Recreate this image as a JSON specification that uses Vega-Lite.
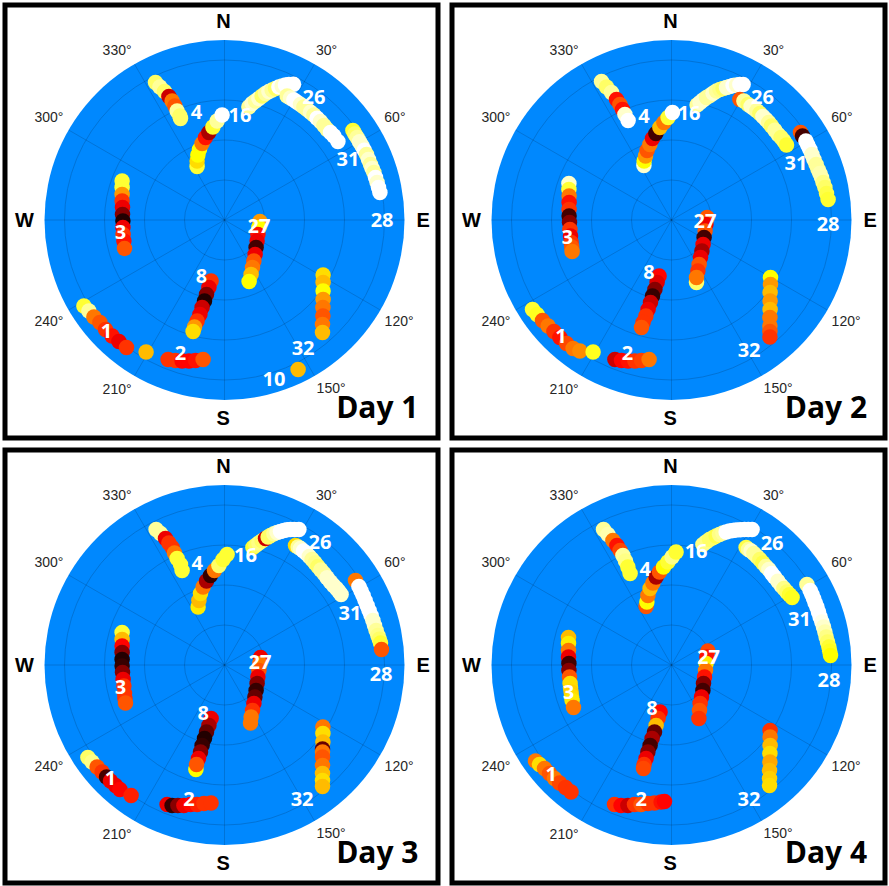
{
"$schema":"https://vega.github.io/schema/vega-lite/v6.json",
"background":"white",
"padding":{"left":2,"top":2,"right":0,"bottom":0},
"config":{"view":{"stroke":"#000","strokeWidth":5,"fill":"white"}},
"spacing":{"row":6,"column":8},
"columns":2,
"datasets":{
"center":[{"x":0,"y":0}],
"rings":[{"x":0,"y":0,"r":20},{"x":0,"y":0,"r":40},{"x":0,"y":0,"r":60},{"x":0,"y":0,"r":80}],
"spokes":[{"x":0,"y":90,"x2":0,"y2":-90},{"x":45,"y":77.94,"x2":-45,"y2":-77.94},{"x":77.94,"y":45,"x2":-77.94,"y2":-45},{"x":90,"y":0,"x2":-90,"y2":0},{"x":77.94,"y":-45,"x2":-77.94,"y2":45},{"x":45,"y":-77.94,"x2":-45,"y2":77.94}],
"angles":[{"t":"30°","x":51,"y":84.5},{"t":"60°","x":85.2,"y":50.8},{"t":"120°","x":87.3,"y":-51},{"t":"150°","x":53.3,"y":-84.7},{"t":"210°","x":-53.7,"y":-85.2},{"t":"240°","x":-87.8,"y":-51},{"t":"300°","x":-87.8,"y":50.8},{"t":"330°","x":-53.7,"y":84.5}],
"compass":[{"t":"N","x":-0.5,"y":99},{"t":"E","x":99.3,"y":-0.5},{"t":"S","x":-0.7,"y":-99.7},{"t":"W","x":-100,"y":-0.5}],
"days":[{"d":1,"t":"Day 1","x":97,"y":-98.8},{"d":2,"t":"Day 2","x":97.8,"y":-98.8},{"d":3,"t":"Day 3","x":97,"y":-98.8},{"d":4,"t":"Day 4","x":97.8,"y":-98.8}],
"labels":[
{"d":1,"t":"4","x":-14,"y":53.3},{"d":1,"t":"16","x":7.7,"y":52},{"d":1,"t":"26","x":44.7,"y":60.8},{"d":1,"t":"31","x":61.7,"y":29.8},{"d":1,"t":"28","x":78.8,"y":-0.5},{"d":1,"t":"3","x":-52,"y":-6.7},{"d":1,"t":"27","x":17.2,"y":-3.3},{"d":1,"t":"8","x":-11.5,"y":-28.5},{"d":1,"t":"1","x":-59,"y":-56},{"d":1,"t":"2","x":-22,"y":-67.2},{"d":1,"t":"32","x":39.3,"y":-64.3},{"d":1,"t":"10","x":24.7,"y":-80.2},
{"d":2,"t":"4","x":-13.8,"y":51.5},{"d":2,"t":"16","x":8.8,"y":52.8},{"d":2,"t":"26","x":45.5,"y":61.2},{"d":2,"t":"31","x":62.2,"y":27.8},{"d":2,"t":"28","x":78.3,"y":-2.5},{"d":2,"t":"3","x":-52.2,"y":-8.8},{"d":2,"t":"27","x":16.7,"y":-1},{"d":2,"t":"8","x":-11.3,"y":-26.3},{"d":2,"t":"1","x":-55.3,"y":-58.5},{"d":2,"t":"2","x":-22,"y":-67.2},{"d":2,"t":"32","x":38.8,"y":-65.5},
{"d":3,"t":"4","x":-13.7,"y":50.3},{"d":3,"t":"16","x":10.5,"y":54.3},{"d":3,"t":"26","x":47.7,"y":61},{"d":3,"t":"31","x":62.7,"y":25.3},{"d":3,"t":"28","x":78.3,"y":-5.2},{"d":3,"t":"3","x":-52,"y":-11.5},{"d":3,"t":"27","x":17.7,"y":1},{"d":3,"t":"8","x":-10.7,"y":-24.7},{"d":3,"t":"1","x":-57,"y":-56.8},{"d":3,"t":"2","x":-17.8,"y":-67.3},{"d":3,"t":"32","x":38.8,"y":-67.7},
{"d":4,"t":"4","x":-13.2,"y":47.7},{"d":4,"t":"16","x":12.3,"y":56.5},{"d":4,"t":"26","x":50.3,"y":60.3},{"d":4,"t":"31","x":64,"y":22.3},{"d":4,"t":"28","x":78.7,"y":-8},{"d":4,"t":"3","x":-51.5,"y":-14},{"d":4,"t":"27","x":18.5,"y":3.7},{"d":4,"t":"8","x":-9.8,"y":-22.2},{"d":4,"t":"1","x":-60.2,"y":-55.2},{"d":4,"t":"2","x":-15.2,"y":-67.3},{"d":4,"t":"32","x":38.7,"y":-67.7}
],
"sats":[
{"d":1,"s":4,"x":-34.5,"y":68.7,"c":0.85},{"d":1,"s":4,"x":-32.3,"y":66.5,"c":0.9},{"d":1,"s":4,"x":-30,"y":64.2,"c":0.85},{"d":1,"s":4,"x":-27.8,"y":61.7,"c":0.3},{"d":1,"s":4,"x":-26.2,"y":59.5,"c":0.55},{"d":1,"s":4,"x":-24.8,"y":57,"c":0.5},{"d":1,"s":4,"x":-23.7,"y":54.5,"c":0.9},{"d":1,"s":4,"x":-22.3,"y":52,"c":0.85},{"d":1,"s":4,"x":-22,"y":50.8,"c":0.85},
{"d":1,"s":16,"x":-13.7,"y":26.7,"c":0.8},{"d":1,"s":16,"x":-13.7,"y":29.5,"c":0.7},{"d":1,"s":16,"x":-13.3,"y":32.5,"c":0.75},{"d":1,"s":16,"x":-12.5,"y":35.3,"c":0.75},{"d":1,"s":16,"x":-11.2,"y":38.2,"c":0.55},{"d":1,"s":16,"x":-9.5,"y":41.2,"c":0.4},{"d":1,"s":16,"x":-7.8,"y":43.7,"c":0.25},{"d":1,"s":16,"x":-5.8,"y":46.5,"c":0.8},{"d":1,"s":16,"x":-3.7,"y":49.5,"c":0.9},{"d":1,"s":16,"x":-1.2,"y":52.5,"c":1},
{"d":1,"s":26,"x":12.2,"y":56.5,"c":0.9},{"d":1,"s":26,"x":13.8,"y":58.2,"c":0.95},{"d":1,"s":26,"x":15.5,"y":59.5,"c":0.9},{"d":1,"s":26,"x":17.2,"y":60.8,"c":0.95},{"d":1,"s":26,"x":18.8,"y":62,"c":0.85},{"d":1,"s":26,"x":20.5,"y":63.2,"c":0.9},{"d":1,"s":26,"x":22.2,"y":64.2,"c":0.95},{"d":1,"s":26,"x":23.8,"y":65,"c":0.9},{"d":1,"s":26,"x":25.5,"y":65.8,"c":0.85},{"d":1,"s":26,"x":27.2,"y":66.5,"c":1},{"d":1,"s":26,"x":28.8,"y":67,"c":0.95},{"d":1,"s":26,"x":30.5,"y":67.5,"c":1},{"d":1,"s":26,"x":32.2,"y":67.8,"c":1},{"d":1,"s":26,"x":34.5,"y":67.9,"c":1},
{"d":1,"s":31,"x":31.3,"y":62,"c":0.9},{"d":1,"s":31,"x":33,"y":61,"c":0.95},{"d":1,"s":31,"x":34.7,"y":60,"c":1},{"d":1,"s":31,"x":36.3,"y":58.9,"c":1},{"d":1,"s":31,"x":38,"y":57.8,"c":0.95},{"d":1,"s":31,"x":39.7,"y":56.5,"c":0.9},{"d":1,"s":31,"x":41.3,"y":55.3,"c":0.9},{"d":1,"s":31,"x":43,"y":53.9,"c":0.95},{"d":1,"s":31,"x":44.7,"y":52.5,"c":0.9},{"d":1,"s":31,"x":46.3,"y":50.9,"c":1},{"d":1,"s":31,"x":48,"y":49.2,"c":0.95},{"d":1,"s":31,"x":49.7,"y":47.3,"c":0.9},{"d":1,"s":31,"x":51.3,"y":45.3,"c":0.9},{"d":1,"s":31,"x":53,"y":43.7,"c":1},{"d":1,"s":31,"x":54.7,"y":42,"c":1},{"d":1,"s":31,"x":56.7,"y":39.2,"c":1},
{"d":1,"s":28,"x":64.2,"y":44.8,"c":0.8},{"d":1,"s":28,"x":65.2,"y":43,"c":0.85},{"d":1,"s":28,"x":66.3,"y":41.2,"c":0.9},{"d":1,"s":28,"x":67.5,"y":39.1,"c":0.95},{"d":1,"s":28,"x":68.8,"y":37,"c":0.95},{"d":1,"s":28,"x":69.9,"y":34.9,"c":1},{"d":1,"s":28,"x":71,"y":32.8,"c":0.9},{"d":1,"s":28,"x":72,"y":30.3,"c":0.95},{"d":1,"s":28,"x":73,"y":27.8,"c":0.9},{"d":1,"s":28,"x":73.8,"y":25.7,"c":0.95},{"d":1,"s":28,"x":74.7,"y":23.7,"c":0.9},{"d":1,"s":28,"x":75.5,"y":21.2,"c":1},{"d":1,"s":28,"x":76.3,"y":18.7,"c":0.95},{"d":1,"s":28,"x":77,"y":16.2,"c":1},{"d":1,"s":28,"x":77.7,"y":13.7,"c":1},
{"d":1,"s":3,"x":-51.2,"y":19.5,"c":0.8},{"d":1,"s":3,"x":-51.2,"y":16.2,"c":0.8},{"d":1,"s":3,"x":-51.2,"y":12.8,"c":0.6},{"d":1,"s":3,"x":-51.2,"y":9.5,"c":0.45},{"d":1,"s":3,"x":-51,"y":6.2,"c":0.35},{"d":1,"s":3,"x":-51,"y":2.8,"c":0.2},{"d":1,"s":3,"x":-50.8,"y":-0.5,"c":0.05},{"d":1,"s":3,"x":-50.8,"y":-3.8,"c":0.35},{"d":1,"s":3,"x":-50.7,"y":-7.2,"c":0.45},{"d":1,"s":3,"x":-50.3,"y":-10.5,"c":0.4},{"d":1,"s":3,"x":-50,"y":-14.2,"c":0.5},
{"d":1,"s":27,"x":17.7,"y":-0.8,"c":0.6},{"d":1,"s":27,"x":17.2,"y":-3.8,"c":0.75},{"d":1,"s":27,"x":16.7,"y":-7.2,"c":0.4},{"d":1,"s":27,"x":16.3,"y":-10.5,"c":0.35},{"d":1,"s":27,"x":15.8,"y":-13.8,"c":0.1},{"d":1,"s":27,"x":15.3,"y":-17.2,"c":0.35},{"d":1,"s":27,"x":14.7,"y":-20.5,"c":0.5},{"d":1,"s":27,"x":14,"y":-23.8,"c":0.55},{"d":1,"s":27,"x":13.3,"y":-27.2,"c":0.65},{"d":1,"s":27,"x":12.3,"y":-30.8,"c":0.75},
{"d":1,"s":8,"x":-6.7,"y":-30.5,"c":0.45},{"d":1,"s":8,"x":-7.8,"y":-33.8,"c":0.35},{"d":1,"s":8,"x":-9,"y":-37.2,"c":0.2},{"d":1,"s":8,"x":-10,"y":-40.5,"c":0.05},{"d":1,"s":8,"x":-11.2,"y":-43.8,"c":0.3},{"d":1,"s":8,"x":-12.3,"y":-47.2,"c":0.35},{"d":1,"s":8,"x":-13.7,"y":-50.5,"c":0.45},{"d":1,"s":8,"x":-15,"y":-53.5,"c":0.6},{"d":1,"s":8,"x":-15.7,"y":-55.8,"c":0.7},
{"d":1,"s":1,"x":-70.3,"y":-43,"c":0.8},{"d":1,"s":1,"x":-67.8,"y":-45.5,"c":0.9},{"d":1,"s":1,"x":-65.3,"y":-48.5,"c":0.55},{"d":1,"s":1,"x":-62.3,"y":-51.3,"c":0.5},{"d":1,"s":1,"x":-59.5,"y":-54.7,"c":0.45},{"d":1,"s":1,"x":-56.2,"y":-58,"c":0.4},{"d":1,"s":1,"x":-52.8,"y":-60.8,"c":0.35},{"d":1,"s":1,"x":-49,"y":-63.8,"c":0.45},{"d":1,"s":1,"x":-39.2,"y":-66,"c":0.65},
{"d":1,"s":2,"x":-28.2,"y":-69.7,"c":0.45},{"d":1,"s":2,"x":-24.5,"y":-70.2,"c":0.45},{"d":1,"s":2,"x":-21.2,"y":-70.5,"c":0.38},{"d":1,"s":2,"x":-17.8,"y":-70.5,"c":0.38},{"d":1,"s":2,"x":-14.5,"y":-70.2,"c":0.4},{"d":1,"s":2,"x":-10.7,"y":-69.7,"c":0.5},
{"d":1,"s":32,"x":49.3,"y":-27.5,"c":0.7},{"d":1,"s":32,"x":49.3,"y":-31.3,"c":0.65},{"d":1,"s":32,"x":49.3,"y":-35.5,"c":0.75},{"d":1,"s":32,"x":49.3,"y":-39.7,"c":0.6},{"d":1,"s":32,"x":49.2,"y":-43.8,"c":0.55},{"d":1,"s":32,"x":49.2,"y":-48,"c":0.5},{"d":1,"s":32,"x":49,"y":-52.2,"c":0.55},{"d":1,"s":32,"x":49,"y":-56.3,"c":0.65},
{"d":1,"s":10,"x":36.8,"y":-74.7,"c":0.65},

{"d":2,"s":4,"x":-35,"y":69.2,"c":0.9},{"d":2,"s":4,"x":-32.5,"y":66.5,"c":0.85},{"d":2,"s":4,"x":-30,"y":63.7,"c":0.9},{"d":2,"s":4,"x":-27.5,"y":60.3,"c":0.4},{"d":2,"s":4,"x":-25.8,"y":57.8,"c":0.5},{"d":2,"s":4,"x":-24.5,"y":55.3,"c":0.4},{"d":2,"s":4,"x":-23.3,"y":52.8,"c":0.95},{"d":2,"s":4,"x":-21.7,"y":49.8,"c":1},
{"d":2,"s":16,"x":-13.8,"y":27.3,"c":0.95},{"d":2,"s":16,"x":-13.7,"y":29.5,"c":0.75},{"d":2,"s":16,"x":-13,"y":32,"c":0.6},{"d":2,"s":16,"x":-12.2,"y":34.8,"c":0.5},{"d":2,"s":16,"x":-10.8,"y":37.8,"c":0.55},{"d":2,"s":16,"x":-9.5,"y":40.8,"c":0.35},{"d":2,"s":16,"x":-7.8,"y":43.2,"c":0.1},{"d":2,"s":16,"x":-5.8,"y":46.2,"c":0.65},{"d":2,"s":16,"x":-3.8,"y":48.7,"c":0.55},{"d":2,"s":16,"x":-1.7,"y":51.2,"c":0.8},{"d":2,"s":16,"x":0.5,"y":53.7,"c":1},
{"d":2,"s":26,"x":12.8,"y":57.5,"c":0.9},{"d":2,"s":26,"x":14.3,"y":58.8,"c":0.95},{"d":2,"s":26,"x":15.8,"y":60,"c":0.95},{"d":2,"s":26,"x":17.5,"y":61.2,"c":0.9},{"d":2,"s":26,"x":19.2,"y":62.3,"c":0.9},{"d":2,"s":26,"x":20.8,"y":63.4,"c":0.95},{"d":2,"s":26,"x":22.5,"y":64.5,"c":0.9},{"d":2,"s":26,"x":24.2,"y":65.2,"c":0.88},{"d":2,"s":26,"x":25.8,"y":65.8,"c":0.85},{"d":2,"s":26,"x":27.5,"y":66.3,"c":0.95},{"d":2,"s":26,"x":29.2,"y":66.8,"c":0.95},{"d":2,"s":26,"x":30.8,"y":67.2,"c":1},{"d":2,"s":26,"x":32.5,"y":67.5,"c":0.95},{"d":2,"s":26,"x":34.2,"y":67.7,"c":1},{"d":2,"s":26,"x":35.8,"y":67.8,"c":1},
{"d":2,"s":31,"x":34.2,"y":60.3,"c":0.5},{"d":2,"s":31,"x":36.2,"y":59.5,"c":0.9},{"d":2,"s":31,"x":38.3,"y":57.8,"c":0.85},{"d":2,"s":31,"x":39.8,"y":56.8,"c":0.95},{"d":2,"s":31,"x":41.2,"y":55.8,"c":0.95},{"d":2,"s":31,"x":42.7,"y":54.6,"c":0.9},{"d":2,"s":31,"x":44.2,"y":53.3,"c":0.85},{"d":2,"s":31,"x":45.7,"y":51.8,"c":0.95},{"d":2,"s":31,"x":47.2,"y":50.3,"c":0.95},{"d":2,"s":31,"x":48.6,"y":48.7,"c":0.9},{"d":2,"s":31,"x":50,"y":47,"c":0.85},{"d":2,"s":31,"x":51.7,"y":44.9,"c":0.9},{"d":2,"s":31,"x":53.3,"y":42.8,"c":0.9},{"d":2,"s":31,"x":54.8,"y":41.2,"c":0.85},{"d":2,"s":31,"x":56.2,"y":39.5,"c":0.85},{"d":2,"s":31,"x":57.5,"y":37.5,"c":0.8},
{"d":2,"s":28,"x":64.5,"y":43.7,"c":0.5},{"d":2,"s":28,"x":65.5,"y":42,"c":0.1},{"d":2,"s":28,"x":67.2,"y":39.5,"c":1},{"d":2,"s":28,"x":68.2,"y":37.4,"c":1},{"d":2,"s":28,"x":69.2,"y":35.3,"c":1},{"d":2,"s":28,"x":70.2,"y":32.8,"c":0.95},{"d":2,"s":28,"x":71.2,"y":30.3,"c":0.95},{"d":2,"s":28,"x":72.3,"y":27.8,"c":0.9},{"d":2,"s":28,"x":73.3,"y":25.3,"c":0.9},{"d":2,"s":28,"x":74.2,"y":23.2,"c":0.92},{"d":2,"s":28,"x":75,"y":21.2,"c":0.92},{"d":2,"s":28,"x":75.8,"y":18.7,"c":0.88},{"d":2,"s":28,"x":76.7,"y":16.2,"c":0.85},{"d":2,"s":28,"x":77.5,"y":13.2,"c":0.82},{"d":2,"s":28,"x":78.3,"y":10.3,"c":0.8},
{"d":2,"s":3,"x":-51.3,"y":18.3,"c":0.95},{"d":2,"s":3,"x":-51.3,"y":15.3,"c":0.8},{"d":2,"s":3,"x":-51.2,"y":12,"c":0.55},{"d":2,"s":3,"x":-51.2,"y":8.7,"c":0.4},{"d":2,"s":3,"x":-51.2,"y":5.3,"c":0.45},{"d":2,"s":3,"x":-51.2,"y":2,"c":0.1},{"d":2,"s":3,"x":-51,"y":-1.3,"c":0.2},{"d":2,"s":3,"x":-50.8,"y":-4.7,"c":0.45},{"d":2,"s":3,"x":-50.5,"y":-8,"c":0.35},{"d":2,"s":3,"x":-50.2,"y":-11.3,"c":0.45},{"d":2,"s":3,"x":-49.9,"y":-13.5,"c":0.5},{"d":2,"s":3,"x":-49.7,"y":-15.8,"c":0.55},
{"d":2,"s":27,"x":12.5,"y":-31.3,"c":0.85},{"d":2,"s":27,"x":17.8,"y":1.2,"c":0.5},{"d":2,"s":27,"x":17.2,"y":-2.2,"c":0.35},{"d":2,"s":27,"x":16.8,"y":-5.5,"c":0.5},{"d":2,"s":27,"x":16.3,"y":-8.8,"c":0.1},{"d":2,"s":27,"x":15.8,"y":-12.2,"c":0.35},{"d":2,"s":27,"x":15.2,"y":-15.5,"c":0.25},{"d":2,"s":27,"x":14.5,"y":-18.8,"c":0.35},{"d":2,"s":27,"x":13.8,"y":-22.2,"c":0.5},{"d":2,"s":27,"x":13.2,"y":-25.5,"c":0.45},{"d":2,"s":27,"x":12.5,"y":-28.8,"c":0.55},
{"d":2,"s":8,"x":-6.2,"y":-28,"c":0.38},{"d":2,"s":8,"x":-7.2,"y":-31.3,"c":0.33},{"d":2,"s":8,"x":-8.3,"y":-34.7,"c":0.2},{"d":2,"s":8,"x":-9.5,"y":-38,"c":0.08},{"d":2,"s":8,"x":-10.5,"y":-41.3,"c":0.3},{"d":2,"s":8,"x":-11.7,"y":-44.7,"c":0.35},{"d":2,"s":8,"x":-12.8,"y":-48,"c":0.45},{"d":2,"s":8,"x":-14.2,"y":-51.3,"c":0.45},{"d":2,"s":8,"x":-15,"y":-53.8,"c":0.5},
{"d":2,"s":1,"x":-69.5,"y":-44.7,"c":0.8},{"d":2,"s":1,"x":-67.2,"y":-47.2,"c":0.78},{"d":2,"s":1,"x":-64.5,"y":-50.2,"c":0.5},{"d":2,"s":1,"x":-61.7,"y":-53,"c":0.55},{"d":2,"s":1,"x":-58.8,"y":-55.8,"c":0.45},{"d":2,"s":1,"x":-55.8,"y":-58.8,"c":0.4},{"d":2,"s":1,"x":-52.5,"y":-61.8,"c":0.48},{"d":2,"s":1,"x":-49.2,"y":-64.3,"c":0.55},{"d":2,"s":1,"x":-45.8,"y":-65.5,"c":0.58},{"d":2,"s":1,"x":-39.2,"y":-66,"c":0.78},
{"d":2,"s":2,"x":-28.3,"y":-69.7,"c":0.3},{"d":2,"s":2,"x":-25,"y":-70.2,"c":0.38},{"d":2,"s":2,"x":-21.7,"y":-70.5,"c":0.4},{"d":2,"s":2,"x":-18.3,"y":-70.5,"c":0.45},{"d":2,"s":2,"x":-15,"y":-70.2,"c":0.47},{"d":2,"s":2,"x":-11.2,"y":-69.7,"c":0.55},
{"d":2,"s":32,"x":49.5,"y":-28.8,"c":0.75},{"d":2,"s":32,"x":49.5,"y":-32.2,"c":0.6},{"d":2,"s":32,"x":49.3,"y":-36.3,"c":0.65},{"d":2,"s":32,"x":49.3,"y":-40.5,"c":0.6},{"d":2,"s":32,"x":49.3,"y":-44.7,"c":0.65},{"d":2,"s":32,"x":49.2,"y":-48.8,"c":0.55},{"d":2,"s":32,"x":49.2,"y":-53,"c":0.55},{"d":2,"s":32,"x":49.2,"y":-55.8,"c":0.5},{"d":2,"s":32,"x":49.2,"y":-58.5,"c":0.45},

{"d":3,"s":4,"x":-34.2,"y":67.8,"c":0.9},{"d":3,"s":4,"x":-32,"y":65.7,"c":0.9},{"d":3,"s":4,"x":-29.5,"y":63.2,"c":0.35},{"d":3,"s":4,"x":-27.8,"y":61,"c":0.45},{"d":3,"s":4,"x":-26.2,"y":58.7,"c":0.45},{"d":3,"s":4,"x":-25,"y":56,"c":0.55},{"d":3,"s":4,"x":-23.7,"y":53.2,"c":0.8},{"d":3,"s":4,"x":-22,"y":50.3,"c":0.8},{"d":3,"s":4,"x":-21.2,"y":47.3,"c":0.8},
{"d":3,"s":16,"x":-13.2,"y":29,"c":0.72},{"d":3,"s":16,"x":-12.8,"y":32.3,"c":0.65},{"d":3,"s":16,"x":-12,"y":35.7,"c":0.7},{"d":3,"s":16,"x":-10.7,"y":39,"c":0.55},{"d":3,"s":16,"x":-9,"y":42,"c":0.25},{"d":3,"s":16,"x":-7,"y":44.8,"c":0.08},{"d":3,"s":16,"x":-5,"y":47.3,"c":0.55},{"d":3,"s":16,"x":-2.8,"y":49.8,"c":0.85},{"d":3,"s":16,"x":-0.7,"y":52.7,"c":0.8},{"d":3,"s":16,"x":1.3,"y":55.3,"c":0.8},
{"d":3,"s":26,"x":14.2,"y":58.7,"c":0.8},{"d":3,"s":26,"x":15.7,"y":59.9,"c":0.85},{"d":3,"s":26,"x":17.2,"y":61,"c":0.88},{"d":3,"s":26,"x":18.8,"y":62.1,"c":0.85},{"d":3,"s":26,"x":20.5,"y":63.2,"c":0.3},{"d":3,"s":26,"x":21.8,"y":64,"c":0.85},{"d":3,"s":26,"x":23,"y":64.8,"c":0.85},{"d":3,"s":26,"x":24.7,"y":65.6,"c":0.9},{"d":3,"s":26,"x":26.3,"y":66.3,"c":0.95},{"d":3,"s":26,"x":28,"y":66.8,"c":1},{"d":3,"s":26,"x":29.7,"y":67.3,"c":1},{"d":3,"s":26,"x":31.3,"y":67.6,"c":1},{"d":3,"s":26,"x":33,"y":67.8,"c":1},{"d":3,"s":26,"x":35,"y":67.8,"c":1},{"d":3,"s":26,"x":37.2,"y":67.7,"c":1},
{"d":3,"s":31,"x":35.5,"y":59.8,"c":0.7},{"d":3,"s":31,"x":36.8,"y":59,"c":0.9},{"d":3,"s":31,"x":38,"y":58.2,"c":0.95},{"d":3,"s":31,"x":39.5,"y":57,"c":1},{"d":3,"s":31,"x":41,"y":55.7,"c":1},{"d":3,"s":31,"x":42.4,"y":54.2,"c":0.95},{"d":3,"s":31,"x":43.8,"y":52.7,"c":0.9},{"d":3,"s":31,"x":45.3,"y":51,"c":0.88},{"d":3,"s":31,"x":46.7,"y":49.3,"c":0.85},{"d":3,"s":31,"x":48.2,"y":47.5,"c":0.9},{"d":3,"s":31,"x":49.7,"y":45.7,"c":0.9},{"d":3,"s":31,"x":51.3,"y":43.6,"c":0.95},{"d":3,"s":31,"x":53,"y":41.5,"c":0.95},{"d":3,"s":31,"x":54.5,"y":39.8,"c":0.95},{"d":3,"s":31,"x":56,"y":38.2,"c":0.95},{"d":3,"s":31,"x":57.2,"y":36.7,"c":0.95},{"d":3,"s":31,"x":58.3,"y":35.3,"c":0.95},
{"d":3,"s":28,"x":65.5,"y":42.3,"c":0.55},{"d":3,"s":28,"x":67.2,"y":39.3,"c":1},{"d":3,"s":28,"x":68.3,"y":37,"c":1},{"d":3,"s":28,"x":69.3,"y":34.8,"c":1},{"d":3,"s":28,"x":70.3,"y":32.3,"c":1},{"d":3,"s":28,"x":71.3,"y":29.8,"c":1},{"d":3,"s":28,"x":72.3,"y":27.3,"c":1},{"d":3,"s":28,"x":73.3,"y":24.8,"c":1},{"d":3,"s":28,"x":74.2,"y":22.3,"c":0.95},{"d":3,"s":28,"x":75,"y":19.8,"c":0.95},{"d":3,"s":28,"x":75.8,"y":17.3,"c":0.9},{"d":3,"s":28,"x":76.7,"y":14.8,"c":0.88},{"d":3,"s":28,"x":77.4,"y":12.9,"c":0.85},{"d":3,"s":28,"x":78,"y":11,"c":0.8},{"d":3,"s":28,"x":78.5,"y":7.7,"c":0.5},
{"d":3,"s":3,"x":-51.2,"y":16.2,"c":0.8},{"d":3,"s":3,"x":-51.2,"y":12.8,"c":0.65},{"d":3,"s":3,"x":-51.2,"y":9.5,"c":0.38},{"d":3,"s":3,"x":-51.2,"y":6.2,"c":0.2},{"d":3,"s":3,"x":-51.2,"y":2.8,"c":0.05},{"d":3,"s":3,"x":-51.2,"y":-0.5,"c":0.08},{"d":3,"s":3,"x":-51,"y":-3.8,"c":0.2},{"d":3,"s":3,"x":-50.7,"y":-7.2,"c":0.35},{"d":3,"s":3,"x":-50.3,"y":-10.5,"c":0.45},{"d":3,"s":3,"x":-50,"y":-14.3,"c":0.45},{"d":3,"s":3,"x":-49.8,"y":-16.7,"c":0.45},{"d":3,"s":3,"x":-49.5,"y":-19,"c":0.5},
{"d":3,"s":27,"x":18,"y":3.7,"c":0.35},{"d":3,"s":27,"x":17.7,"y":0.7,"c":0.55},{"d":3,"s":27,"x":17.2,"y":-2.7,"c":0.5},{"d":3,"s":27,"x":16.7,"y":-6,"c":0.35},{"d":3,"s":27,"x":16.3,"y":-9.3,"c":0.2},{"d":3,"s":27,"x":15.8,"y":-12.7,"c":0.08},{"d":3,"s":27,"x":15.2,"y":-16,"c":0.15},{"d":3,"s":27,"x":14.7,"y":-19.3,"c":0.35},{"d":3,"s":27,"x":14,"y":-22.7,"c":0.45},{"d":3,"s":27,"x":13.3,"y":-26,"c":0.55},{"d":3,"s":27,"x":13,"y":-29,"c":0.55},
{"d":3,"s":8,"x":-6.7,"y":-26.8,"c":0.35},{"d":3,"s":8,"x":-7.8,"y":-30.2,"c":0.25},{"d":3,"s":8,"x":-9,"y":-33.5,"c":0.15},{"d":3,"s":8,"x":-10,"y":-36.8,"c":0.05},{"d":3,"s":8,"x":-11.2,"y":-40.2,"c":0.08},{"d":3,"s":8,"x":-12,"y":-43.5,"c":0.2},{"d":3,"s":8,"x":-13,"y":-46.8,"c":0.35},{"d":3,"s":8,"x":-14.3,"y":-52.3,"c":0.75},{"d":3,"s":8,"x":-14,"y":-49.7,"c":0.5},
{"d":3,"s":1,"x":-68.3,"y":-46.3,"c":0.85},{"d":3,"s":1,"x":-66.2,"y":-48.5,"c":0.88},{"d":3,"s":1,"x":-63.7,"y":-51,"c":0.5},{"d":3,"s":1,"x":-61.2,"y":-53.5,"c":0.45},{"d":3,"s":1,"x":-59,"y":-56,"c":0.1},{"d":3,"s":1,"x":-57,"y":-58,"c":0.35},{"d":3,"s":1,"x":-54.5,"y":-60.2,"c":0.35},{"d":3,"s":1,"x":-52.3,"y":-62.3,"c":0.38},{"d":3,"s":1,"x":-46.7,"y":-65.2,"c":0.42},
{"d":3,"s":2,"x":-28.7,"y":-69.8,"c":0.35},{"d":3,"s":2,"x":-26.2,"y":-70.2,"c":0.08},{"d":3,"s":2,"x":-23.3,"y":-70.2,"c":0.2},{"d":3,"s":2,"x":-20.3,"y":-70.2,"c":0.35},{"d":3,"s":2,"x":-17,"y":-69.8,"c":0.38},{"d":3,"s":2,"x":-13.7,"y":-69.7,"c":0.42},{"d":3,"s":2,"x":-10.3,"y":-69.3,"c":0.45},{"d":3,"s":2,"x":-6.7,"y":-69,"c":0.45},
{"d":3,"s":32,"x":49.2,"y":-31,"c":0.55},{"d":3,"s":32,"x":49.2,"y":-34.3,"c":0.7},{"d":3,"s":32,"x":49.2,"y":-38.5,"c":0.65},{"d":3,"s":32,"x":49,"y":-42,"c":0.15},{"d":3,"s":32,"x":49,"y":-43.5,"c":0.55},{"d":3,"s":32,"x":49,"y":-46,"c":0.5},{"d":3,"s":32,"x":49,"y":-50.2,"c":0.55},{"d":3,"s":32,"x":49,"y":-54.3,"c":0.65},{"d":3,"s":32,"x":49,"y":-57.7,"c":0.7},{"d":3,"s":32,"x":49,"y":-60.7,"c":0.65},

{"d":4,"s":4,"x":-34,"y":67.8,"c":0.9},{"d":4,"s":4,"x":-31.8,"y":65.3,"c":0.92},{"d":4,"s":4,"x":-29.3,"y":62.3,"c":0.55},{"d":4,"s":4,"x":-27.3,"y":59.8,"c":0.4},{"d":4,"s":4,"x":-25.7,"y":57.3,"c":0.48},{"d":4,"s":4,"x":-24.3,"y":54.8,"c":0.9},{"d":4,"s":4,"x":-23,"y":52,"c":0.88},{"d":4,"s":4,"x":-21.8,"y":49,"c":0.8},{"d":4,"s":4,"x":-20.7,"y":45.7,"c":0.8},
{"d":4,"s":16,"x":-12.7,"y":29.3,"c":0.5},{"d":4,"s":16,"x":-12.3,"y":31.5,"c":0.75},{"d":4,"s":16,"x":-11.8,"y":34.8,"c":0.55},{"d":4,"s":16,"x":-10.7,"y":38.2,"c":0.65},{"d":4,"s":16,"x":-9.3,"y":41,"c":0.55},{"d":4,"s":16,"x":-7.7,"y":44,"c":0.25},{"d":4,"s":16,"x":-6,"y":46.5,"c":0.5},{"d":4,"s":16,"x":-4,"y":49,"c":0.75},{"d":4,"s":16,"x":-1.8,"y":51.5,"c":0.8},{"d":4,"s":16,"x":0.3,"y":54,"c":0.88},{"d":4,"s":16,"x":2.3,"y":56.5,"c":0.8},
{"d":4,"s":26,"x":15.7,"y":60.3,"c":0.88},{"d":4,"s":26,"x":17.3,"y":61.5,"c":0.88},{"d":4,"s":26,"x":19,"y":62.7,"c":0.85},{"d":4,"s":26,"x":20.7,"y":63.6,"c":0.85},{"d":4,"s":26,"x":22.3,"y":64.5,"c":0.82},{"d":4,"s":26,"x":24,"y":65.3,"c":0.88},{"d":4,"s":26,"x":25.7,"y":66,"c":0.9},{"d":4,"s":26,"x":27.3,"y":66.5,"c":1},{"d":4,"s":26,"x":29,"y":67,"c":1},{"d":4,"s":26,"x":30.7,"y":67.3,"c":1},{"d":4,"s":26,"x":32.3,"y":67.5,"c":1},{"d":4,"s":26,"x":34.4,"y":67.6,"c":1},{"d":4,"s":26,"x":36.5,"y":67.7,"c":1},{"d":4,"s":26,"x":38.4,"y":67.7,"c":1},{"d":4,"s":26,"x":40.3,"y":67.7,"c":1},
{"d":4,"s":31,"x":37.3,"y":58.7,"c":0.82},{"d":4,"s":31,"x":38.5,"y":57.8,"c":0.9},{"d":4,"s":31,"x":39.8,"y":57,"c":0.95},{"d":4,"s":31,"x":41.2,"y":55.7,"c":0.9},{"d":4,"s":31,"x":42.7,"y":54.3,"c":0.9},{"d":4,"s":31,"x":44.2,"y":52.7,"c":0.85},{"d":4,"s":31,"x":45.7,"y":51,"c":0.82},{"d":4,"s":31,"x":47.2,"y":49.3,"c":0.9},{"d":4,"s":31,"x":48.7,"y":47.7,"c":0.95},{"d":4,"s":31,"x":50.1,"y":45.8,"c":1},{"d":4,"s":31,"x":51.5,"y":44,"c":1},{"d":4,"s":31,"x":53.2,"y":41.9,"c":0.95},{"d":4,"s":31,"x":54.8,"y":39.8,"c":0.95},{"d":4,"s":31,"x":56.2,"y":38.2,"c":0.88},{"d":4,"s":31,"x":57.7,"y":36.5,"c":0.85},{"d":4,"s":31,"x":59,"y":35.1,"c":0.8},{"d":4,"s":31,"x":60.3,"y":33.7,"c":0.78},
{"d":4,"s":28,"x":67.7,"y":40.3,"c":0.9},{"d":4,"s":28,"x":69.3,"y":37.3,"c":1},{"d":4,"s":28,"x":70.2,"y":35.3,"c":1},{"d":4,"s":28,"x":71,"y":33.2,"c":1},{"d":4,"s":28,"x":71.8,"y":31.1,"c":1},{"d":4,"s":28,"x":72.7,"y":29,"c":1},{"d":4,"s":28,"x":73.5,"y":26.5,"c":1},{"d":4,"s":28,"x":74.3,"y":24,"c":1},{"d":4,"s":28,"x":75.2,"y":21.5,"c":0.98},{"d":4,"s":28,"x":76,"y":19,"c":0.95},{"d":4,"s":28,"x":76.7,"y":16.5,"c":0.92},{"d":4,"s":28,"x":77.3,"y":14,"c":0.88},{"d":4,"s":28,"x":78,"y":11.5,"c":0.85},{"d":4,"s":28,"x":78.7,"y":9,"c":0.8},{"d":4,"s":28,"x":79.1,"y":6.9,"c":0.78},{"d":4,"s":28,"x":79.5,"y":4.8,"c":0.75},
{"d":4,"s":3,"x":-51.5,"y":13.7,"c":0.65},{"d":4,"s":3,"x":-51.5,"y":10.7,"c":0.72},{"d":4,"s":3,"x":-51.5,"y":7.3,"c":0.55},{"d":4,"s":3,"x":-51.5,"y":4,"c":0.35},{"d":4,"s":3,"x":-51.3,"y":0.7,"c":0.1},{"d":4,"s":3,"x":-51.3,"y":-2.7,"c":0.2},{"d":4,"s":3,"x":-51,"y":-6,"c":0.5},{"d":4,"s":3,"x":-50.7,"y":-9.3,"c":0.7},{"d":4,"s":3,"x":-50.5,"y":-11.4,"c":0.7},{"d":4,"s":3,"x":-50.2,"y":-13.5,"c":0.68},{"d":4,"s":3,"x":-50,"y":-15.6,"c":0.7},{"d":4,"s":3,"x":-49.7,"y":-17.7,"c":0.72},{"d":4,"s":3,"x":-49,"y":-21.3,"c":0.55},
{"d":4,"s":27,"x":18.2,"y":7,"c":0.48},{"d":4,"s":27,"x":17.7,"y":4,"c":0.4},{"d":4,"s":27,"x":17.3,"y":0.7,"c":0.72},{"d":4,"s":27,"x":17,"y":-2.7,"c":0.55},{"d":4,"s":27,"x":16.5,"y":-6,"c":0.4},{"d":4,"s":27,"x":16,"y":-9.3,"c":0.2},{"d":4,"s":27,"x":15.7,"y":-12.7,"c":0.1},{"d":4,"s":27,"x":15,"y":-16,"c":0.35},{"d":4,"s":27,"x":14.3,"y":-19.3,"c":0.45},{"d":4,"s":27,"x":14,"y":-22.7,"c":0.5},{"d":4,"s":27,"x":13.7,"y":-26.8,"c":0.45},
{"d":4,"s":8,"x":-5.7,"y":-23.5,"c":0.38},{"d":4,"s":8,"x":-6.7,"y":-26.8,"c":0.45},{"d":4,"s":8,"x":-7.7,"y":-30.2,"c":0.65},{"d":4,"s":8,"x":-8.5,"y":-33.5,"c":0.15},{"d":4,"s":8,"x":-9.7,"y":-36.8,"c":0.25},{"d":4,"s":8,"x":-10.7,"y":-40.2,"c":0.1},{"d":4,"s":8,"x":-11.8,"y":-43.5,"c":0.2},{"d":4,"s":8,"x":-12.7,"y":-46.8,"c":0.35},{"d":4,"s":8,"x":-13.7,"y":-49.7,"c":0.45},{"d":4,"s":8,"x":-14,"y":-51.8,"c":0.48},
{"d":4,"s":1,"x":-68,"y":-48,"c":0.55},{"d":4,"s":1,"x":-66,"y":-49.7,"c":0.7},{"d":4,"s":1,"x":-63.5,"y":-51.8,"c":0.55},{"d":4,"s":1,"x":-61,"y":-54.3,"c":0.5},{"d":4,"s":1,"x":-58.5,"y":-56.8,"c":0.55},{"d":4,"s":1,"x":-56,"y":-59,"c":0.48},{"d":4,"s":1,"x":-53,"y":-61.3,"c":0.45},{"d":4,"s":1,"x":-50.2,"y":-63.5,"c":0.45},
{"d":4,"s":2,"x":-28.5,"y":-69.8,"c":0.45},{"d":4,"s":2,"x":-25.2,"y":-70.2,"c":0.38},{"d":4,"s":2,"x":-21.8,"y":-70.2,"c":0.3},{"d":4,"s":2,"x":-18.5,"y":-69.8,"c":0.45},{"d":4,"s":2,"x":-15.2,"y":-69.7,"c":0.5},{"d":4,"s":2,"x":-11.8,"y":-69.3,"c":0.45},{"d":4,"s":2,"x":-8.5,"y":-69,"c":0.45},{"d":4,"s":2,"x":-5.2,"y":-68.5,"c":0.4},{"d":4,"s":2,"x":-3.5,"y":-68.2,"c":0.38},
{"d":4,"s":32,"x":49.3,"y":-32.7,"c":0.45},{"d":4,"s":32,"x":49.3,"y":-36,"c":0.55},{"d":4,"s":32,"x":49.3,"y":-40.2,"c":0.65},{"d":4,"s":32,"x":49.2,"y":-44.3,"c":0.7},{"d":4,"s":32,"x":49.2,"y":-48.5,"c":0.62},{"d":4,"s":32,"x":49,"y":-52.7,"c":0.65},{"d":4,"s":32,"x":49,"y":-56.8,"c":0.68},{"d":4,"s":32,"x":49,"y":-60.2,"c":0.7}
]
},
"concat":[
{"width":433,"height":433,
"encoding":{"x":{"field":"x","type":"quantitative","scale":{"domain":[-109.75,106.75],"nice":false,"zero":false},"axis":null},"y":{"field":"y","type":"quantitative","scale":{"domain":[-109,107.5],"nice":false,"zero":false},"axis":null}},
"layer":[
{"data":{"name":"center"},"mark":{"type":"point","shape":"circle","filled":true,"size":129600,"color":"#0088fe","opacity":1}},
{"data":{"name":"rings"},"mark":{"type":"point","shape":"circle","filled":false,"color":"#000000","strokeWidth":0.7,"opacity":0.22},"encoding":{"size":{"field":"r","type":"quantitative","scale":{"type":"pow","exponent":2,"domain":[0,90],"range":[0,129600]},"legend":null}}},
{"data":{"name":"spokes"},"mark":{"type":"rule","color":"#000000","strokeWidth":0.7,"opacity":0.22},"encoding":{"x2":{"field":"x2"},"y2":{"field":"y2"}}},
{"data":{"name":"angles"},"mark":{"type":"text","font":"Liberation Sans","fontSize":14,"color":"#262626"},"encoding":{"text":{"field":"t"}}},
{"data":{"name":"compass"},"mark":{"type":"text","font":"Liberation Sans","fontSize":20,"fontWeight":"bold","color":"#000000"},"encoding":{"text":{"field":"t"}}},
{"data":{"name":"sats"},"transform":[{"filter":"datum.d==1"}],"mark":{"type":"point","shape":"circle","filled":true,"size":240,"opacity":1,"strokeWidth":0},"encoding":{"color":{"field":"c","type":"quantitative","scale":{"type":"linear","domain":[0,1],"interpolate":"rgb","range":["#000000","#550000","#aa0000","#ff0000","#ff5500","#ffaa00","#ffff00","#ffff80","#ffffff"]},"legend":null}}},
{"data":{"name":"labels"},"transform":[{"filter":"datum.d==1"}],"mark":{"type":"text","font":"Open Sans","fontSize":20,"fontWeight":"bold","color":"#ffffff"},"encoding":{"text":{"field":"t"}}},
{"data":{"name":"days"},"transform":[{"filter":"datum.d==1"}],"mark":{"type":"text","font":"Open Sans","fontSize":30,"fontWeight":"bold","color":"#000000","align":"right","baseline":"alphabetic"},"encoding":{"text":{"field":"t"}}}
]},
{"width":433,"height":433,
"encoding":{"x":{"field":"x","type":"quantitative","scale":{"domain":[-109.75,106.75],"nice":false,"zero":false},"axis":null},"y":{"field":"y","type":"quantitative","scale":{"domain":[-109,107.5],"nice":false,"zero":false},"axis":null}},
"layer":[
{"data":{"name":"center"},"mark":{"type":"point","shape":"circle","filled":true,"size":129600,"color":"#0088fe","opacity":1}},
{"data":{"name":"rings"},"mark":{"type":"point","shape":"circle","filled":false,"color":"#000000","strokeWidth":0.7,"opacity":0.22},"encoding":{"size":{"field":"r","type":"quantitative","scale":{"type":"pow","exponent":2,"domain":[0,90],"range":[0,129600]},"legend":null}}},
{"data":{"name":"spokes"},"mark":{"type":"rule","color":"#000000","strokeWidth":0.7,"opacity":0.22},"encoding":{"x2":{"field":"x2"},"y2":{"field":"y2"}}},
{"data":{"name":"angles"},"mark":{"type":"text","font":"Liberation Sans","fontSize":14,"color":"#262626"},"encoding":{"text":{"field":"t"}}},
{"data":{"name":"compass"},"mark":{"type":"text","font":"Liberation Sans","fontSize":20,"fontWeight":"bold","color":"#000000"},"encoding":{"text":{"field":"t"}}},
{"data":{"name":"sats"},"transform":[{"filter":"datum.d==2"}],"mark":{"type":"point","shape":"circle","filled":true,"size":240,"opacity":1,"strokeWidth":0},"encoding":{"color":{"field":"c","type":"quantitative","scale":{"type":"linear","domain":[0,1],"interpolate":"rgb","range":["#000000","#550000","#aa0000","#ff0000","#ff5500","#ffaa00","#ffff00","#ffff80","#ffffff"]},"legend":null}}},
{"data":{"name":"labels"},"transform":[{"filter":"datum.d==2"}],"mark":{"type":"text","font":"Open Sans","fontSize":20,"fontWeight":"bold","color":"#ffffff"},"encoding":{"text":{"field":"t"}}},
{"data":{"name":"days"},"transform":[{"filter":"datum.d==2"}],"mark":{"type":"text","font":"Open Sans","fontSize":30,"fontWeight":"bold","color":"#000000","align":"right","baseline":"alphabetic"},"encoding":{"text":{"field":"t"}}}
]},
{"width":433,"height":433,
"encoding":{"x":{"field":"x","type":"quantitative","scale":{"domain":[-109.75,106.75],"nice":false,"zero":false},"axis":null},"y":{"field":"y","type":"quantitative","scale":{"domain":[-109,107.5],"nice":false,"zero":false},"axis":null}},
"layer":[
{"data":{"name":"center"},"mark":{"type":"point","shape":"circle","filled":true,"size":129600,"color":"#0088fe","opacity":1}},
{"data":{"name":"rings"},"mark":{"type":"point","shape":"circle","filled":false,"color":"#000000","strokeWidth":0.7,"opacity":0.22},"encoding":{"size":{"field":"r","type":"quantitative","scale":{"type":"pow","exponent":2,"domain":[0,90],"range":[0,129600]},"legend":null}}},
{"data":{"name":"spokes"},"mark":{"type":"rule","color":"#000000","strokeWidth":0.7,"opacity":0.22},"encoding":{"x2":{"field":"x2"},"y2":{"field":"y2"}}},
{"data":{"name":"angles"},"mark":{"type":"text","font":"Liberation Sans","fontSize":14,"color":"#262626"},"encoding":{"text":{"field":"t"}}},
{"data":{"name":"compass"},"mark":{"type":"text","font":"Liberation Sans","fontSize":20,"fontWeight":"bold","color":"#000000"},"encoding":{"text":{"field":"t"}}},
{"data":{"name":"sats"},"transform":[{"filter":"datum.d==3"}],"mark":{"type":"point","shape":"circle","filled":true,"size":240,"opacity":1,"strokeWidth":0},"encoding":{"color":{"field":"c","type":"quantitative","scale":{"type":"linear","domain":[0,1],"interpolate":"rgb","range":["#000000","#550000","#aa0000","#ff0000","#ff5500","#ffaa00","#ffff00","#ffff80","#ffffff"]},"legend":null}}},
{"data":{"name":"labels"},"transform":[{"filter":"datum.d==3"}],"mark":{"type":"text","font":"Open Sans","fontSize":20,"fontWeight":"bold","color":"#ffffff"},"encoding":{"text":{"field":"t"}}},
{"data":{"name":"days"},"transform":[{"filter":"datum.d==3"}],"mark":{"type":"text","font":"Open Sans","fontSize":30,"fontWeight":"bold","color":"#000000","align":"right","baseline":"alphabetic"},"encoding":{"text":{"field":"t"}}}
]},
{"width":433,"height":433,
"encoding":{"x":{"field":"x","type":"quantitative","scale":{"domain":[-109.75,106.75],"nice":false,"zero":false},"axis":null},"y":{"field":"y","type":"quantitative","scale":{"domain":[-109,107.5],"nice":false,"zero":false},"axis":null}},
"layer":[
{"data":{"name":"center"},"mark":{"type":"point","shape":"circle","filled":true,"size":129600,"color":"#0088fe","opacity":1}},
{"data":{"name":"rings"},"mark":{"type":"point","shape":"circle","filled":false,"color":"#000000","strokeWidth":0.7,"opacity":0.22},"encoding":{"size":{"field":"r","type":"quantitative","scale":{"type":"pow","exponent":2,"domain":[0,90],"range":[0,129600]},"legend":null}}},
{"data":{"name":"spokes"},"mark":{"type":"rule","color":"#000000","strokeWidth":0.7,"opacity":0.22},"encoding":{"x2":{"field":"x2"},"y2":{"field":"y2"}}},
{"data":{"name":"angles"},"mark":{"type":"text","font":"Liberation Sans","fontSize":14,"color":"#262626"},"encoding":{"text":{"field":"t"}}},
{"data":{"name":"compass"},"mark":{"type":"text","font":"Liberation Sans","fontSize":20,"fontWeight":"bold","color":"#000000"},"encoding":{"text":{"field":"t"}}},
{"data":{"name":"sats"},"transform":[{"filter":"datum.d==4"}],"mark":{"type":"point","shape":"circle","filled":true,"size":240,"opacity":1,"strokeWidth":0},"encoding":{"color":{"field":"c","type":"quantitative","scale":{"type":"linear","domain":[0,1],"interpolate":"rgb","range":["#000000","#550000","#aa0000","#ff0000","#ff5500","#ffaa00","#ffff00","#ffff80","#ffffff"]},"legend":null}}},
{"data":{"name":"labels"},"transform":[{"filter":"datum.d==4"}],"mark":{"type":"text","font":"Open Sans","fontSize":20,"fontWeight":"bold","color":"#ffffff"},"encoding":{"text":{"field":"t"}}},
{"data":{"name":"days"},"transform":[{"filter":"datum.d==4"}],"mark":{"type":"text","font":"Open Sans","fontSize":30,"fontWeight":"bold","color":"#000000","align":"right","baseline":"alphabetic"},"encoding":{"text":{"field":"t"}}}
]}
]
}
